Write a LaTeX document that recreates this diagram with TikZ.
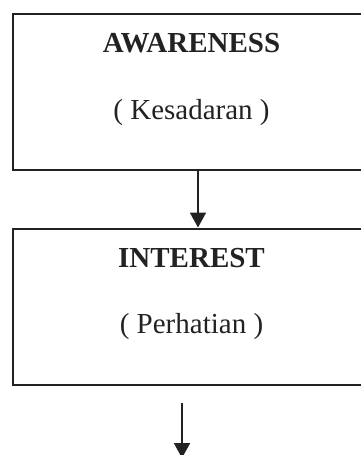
\documentclass[tikz,border=0pt]{standalone}
\usepackage{fontspec}
\setmainfont{Liberation Serif}
\usetikzlibrary{arrows.meta}
\definecolor{ink}{HTML}{222222}
\tikzset{
  stagebox/.style={draw=ink, line width=1.5pt, rectangle, minimum width=357*0.75pt, minimum height=156*0.75pt, inner sep=0pt},
  titletext/.style={anchor=base, inner sep=0pt, text=ink, font=\fontsize{21.75}{26}\selectfont\bfseries},
  subtext/.style={anchor=base, inner sep=0pt, text=ink, font=\fontsize{21.75}{26}\selectfont},
  flow/.style={draw=ink, line width=1.5pt, -{Triangle[length=11.25pt,width=12pt]}}
}
\begin{document}
\begin{tikzpicture}[x=0.75pt,y=-0.75pt]
\useasboundingbox (0,0) rectangle (361,455);
\clip (0,0) rectangle (361,455);
\fill[white] (0,0) rectangle (361,455);
\node[stagebox] (box1) at (191.5,92) {};
\node[stagebox] (box2) at (191.5,306.5) {};
\node[titletext] (t1) at (191.5,52) {AWARENESS};
\node[subtext] (s1) at (191.5,119) {( Kesadaran )};
\node[titletext] (t2) at (191.5,267) {INTEREST};
\node[subtext] (s2) at (191.5,333) {( Perhatian )};
\coordinate (a1) at (198,0);
\draw[flow] (a1 |- box1.south) -- (a1 |- box2.north);
\coordinate (a2s) at (182,403);
\coordinate (a2e) at (182,458);
\draw[flow] (a2s) -- (a2e);
\end{tikzpicture}
\end{document}
